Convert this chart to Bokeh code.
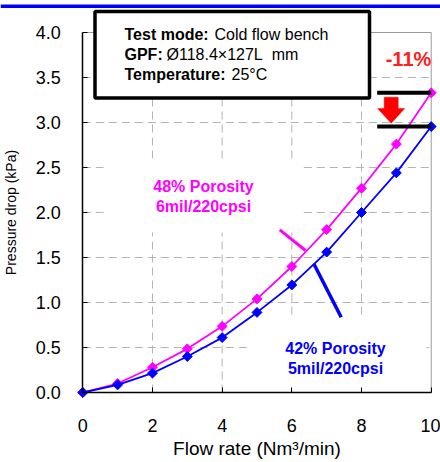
import numpy as np
from bokeh.plotting import figure
from bokeh.models import (BoxAnnotation, Label, FixedTicker, NumeralTickFormatter, Range1d)
from bokeh.embed import file_html
from bokeh.resources import INLINE

# ---- data ----
flow = [0, 1, 2, 3, 4, 5, 6, 7, 8, 9, 10]
dp_48 = [0.0, 0.10, 0.28, 0.485, 0.735, 1.04, 1.40, 1.81, 2.27, 2.76, 3.33]
dp_42 = [0.0, 0.085, 0.215, 0.40, 0.61, 0.89, 1.195, 1.56, 2.00, 2.44, 2.955]
x_ticks = [0, 2, 4, 6, 8, 10]
y_ticks = [0, 0.5, 1.0, 1.5, 2.0, 2.5, 3.0, 3.5, 4.0]
label_48 = ["48% Porosity", "6mil/220cpsi"]
label_42 = ["42% Porosity", "5mil/220cpsi"]
info_bold = ["Test mode:", "GPF:", "Temperature:"]
info_text = ["Cold flow bench", "Ø118.4×127L\u00a0\u00a0mm", "25°C"]
change_text = "-11%"

FONT = "Liberation Sans"
MAG = "#FF00FF"
BLU = "#0000FF"
GRID = "#b4b4b4"

# layout helpers (picture pixel -> data position)
def X(px):
    return (px - 82.3) / 34.84

def Y(py):
    return (392.0 - py) / 90.0

W, H = 440, 462
p = figure(width=W, height=H, output_backend="svg", toolbar_location=None,
           x_range=Range1d(X(0), X(W)), y_range=Range1d(Y(H), Y(0)),
           min_border=0)
p.background_fill_color = "white"
p.border_fill_color = "white"
p.outline_line_color = None
p.xgrid.visible = False
p.ygrid.visible = False

for ax in (p.xaxis[0], p.yaxis[0]):
    ax.fixed_location = 0
    ax.axis_line_color = "black"
    ax.axis_line_width = 1.5
    ax.major_tick_in = 5
    ax.major_tick_out = 0
    ax.minor_tick_line_color = None
    ax.major_tick_line_color = "black"
    ax.major_label_text_font = FONT
    ax.major_label_text_font_size = "18px"
    ax.major_label_text_color = "black"
    ax.axis_label_text_font = FONT
    ax.axis_label_text_font_style = "normal"
    ax.axis_label_text_color = "black"

p.xaxis.bounds = (x_ticks[0], x_ticks[-1])
p.yaxis.bounds = (y_ticks[0], y_ticks[-1])
p.xaxis.ticker = FixedTicker(ticks=x_ticks)
p.yaxis.ticker = FixedTicker(ticks=y_ticks)
p.xaxis.formatter = NumeralTickFormatter(format="0")
p.yaxis.formatter = NumeralTickFormatter(format="0.0")
p.xaxis.axis_label = "Flow rate (Nm³/min)"
p.yaxis.axis_label = "Pressure drop (kPa)"
p.xaxis.axis_label_text_font_size = "19px"
p.yaxis.axis_label_text_font_size = "14px"
p.xaxis.major_label_standoff = 26
p.yaxis.major_label_standoff = 22
p.xaxis.axis_label_standoff = 3
p.yaxis.axis_label_standoff = 13

# dashed grid at tick positions + gray frame on top/right
gx = x_ticks[1:-1]
gy = y_ticks[1:-1]
p.segment(x0=gx, y0=[y_ticks[0]] * len(gx), x1=gx, y1=[y_ticks[-1]] * len(gx),
          line_color=GRID, line_dash="8 5", line_width=1, level="underlay")
p.segment(x0=[x_ticks[0]] * len(gy), y0=gy, x1=[x_ticks[-1]] * len(gy), y1=gy,
          line_color=GRID, line_dash="8 5", line_width=1, level="underlay")
p.line([x_ticks[0], x_ticks[-1], x_ticks[-1]], [y_ticks[-1], y_ticks[-1], y_ticks[0]],
       line_color="#9a9a9a", line_width=1, level="underlay")

# white backgrounds of text boxes (hide gridlines)
p.add_layout(BoxAnnotation(left=X(103), right=X(300), top=Y(160), bottom=Y(232),
                           fill_color="white", fill_alpha=1, line_color=None, level="underlay"))
p.add_layout(BoxAnnotation(left=X(247), right=X(426), top=Y(318), bottom=Y(390),
                           fill_color="white", fill_alpha=1, line_color=None, level="underlay"))

# series
p.line(flow, dp_48, line_color=MAG, line_width=1.8)
p.scatter(flow, dp_48, marker="square", angle=np.pi / 4, size=7, fill_color=MAG, line_color=MAG)
p.line(flow, dp_42, line_color=BLU, line_width=1.8)
p.scatter(flow, dp_42, marker="square", angle=np.pi / 4, size=7, fill_color=BLU, line_color=BLU)

# leader lines
p.line([X(279.3), X(305)], [Y(229.3), Y(250)], line_color=MAG, line_width=3)
p.line([X(313.3), X(340.7)], [Y(263.3), Y(316.7)], line_color=BLU, line_width=3.5)

# series labels
for i, t in enumerate(label_48):
    p.add_layout(Label(x=X(203), y=Y(186 + 19.5 * i), text=t, text_align="center",
                       text_baseline="middle", text_font=FONT, text_font_size="16px",
                       text_font_style="bold", text_color=MAG))
for i, t in enumerate(label_42):
    p.add_layout(Label(x=X(335), y=Y(348.3 + 20 * i), text=t, text_align="center",
                       text_baseline="middle", text_font=FONT, text_font_size="16px",
                       text_font_style="bold", text_color=BLU))

# -11% marker: black bars and red arrow
p.segment(x0=[X(376.7)] * 2, y0=[dp_48[-1], dp_42[-1]], x1=[10, 10], y1=[dp_48[-1], dp_42[-1]],
          line_color="black", line_width=4)
cx, top, mid, tip, sw, hw = 390.7, 96.7, 108.0, 122.7, 7.0, 13.5
p.patch([X(cx - sw), X(cx + sw), X(cx + sw), X(cx + hw), X(cx), X(cx - hw), X(cx - sw)],
        [Y(top), Y(top), Y(mid), Y(mid), Y(tip), Y(mid), Y(mid)],
        fill_color="#FF0000", line_color="#FF0000", line_width=0.5)
p.add_layout(Label(x=X(408), y=Y(58.5), text=change_text, text_align="center",
                   text_baseline="middle", text_font=FONT, text_font_size="20px",
                   text_font_style="bold", text_color="#FF2020"))

# info box
p.add_layout(BoxAnnotation(left=X(94.5), right=X(369), top=Y(11), bottom=Y(97.5),
                           fill_color="white", fill_alpha=1, line_color="black",
                           line_alpha=1, line_width=3.5, level="annotation"))
rows_y = [33.5, 54, 73.5]
bold_end = [214, 166, 231]
for i in range(3):
    p.add_layout(Label(x=X(124), y=Y(rows_y[i]), text=info_bold[i], text_align="left",
                       text_baseline="middle", text_font=FONT, text_font_size="16px",
                       text_font_style="bold", text_color="black"))
    p.add_layout(Label(x=X(bold_end[i]), y=Y(rows_y[i]), text=info_text[i], text_align="left",
                       text_baseline="middle", text_font=FONT, text_font_size="16px",
                       text_font_style="normal", text_color="black"))

# blue header bar across the page
p.add_layout(BoxAnnotation(top=Y(4), bottom=Y(7.5),
                           fill_color=BLU, fill_alpha=1, line_color=None, level="annotation"))

open("out.html", "w").write(file_html(p, INLINE))
